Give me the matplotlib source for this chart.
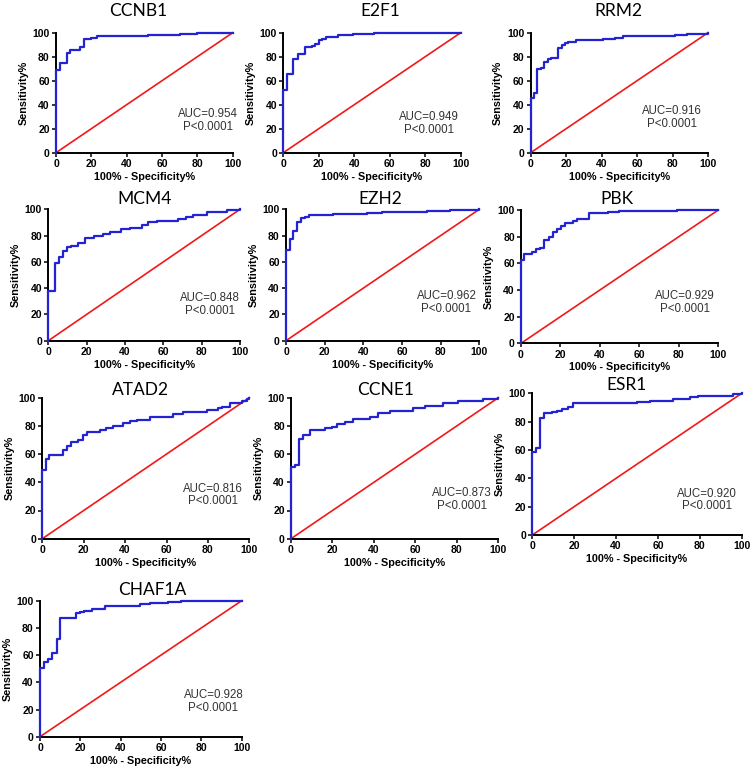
import matplotlib
matplotlib.use("Agg")
import matplotlib.pyplot as plt
from matplotlib.font_manager import FontProperties

# ROC step vertices (100% - specificity, sensitivity)
genes = ["CCNB1", "E2F1", "RRM2", "MCM4", "EZH2", "PBK", "ATAD2", "CCNE1", "ESR1", "CHAF1A"]

ccnb1_x = [0, 0, 2, 6, 8, 13.6, 16, 20, 23, 36, 52, 70, 80, 100]
ccnb1_y = [0, 69, 75, 83, 86, 88, 95, 96, 97, 97.5, 98, 99, 99.5, 100]

e2f1_x = [0, 0, 2.3, 5.6, 8.5, 12, 16, 18, 20, 22, 24, 31, 39.5, 51, 100]
e2f1_y = [0, 52, 65.5, 78, 82, 88, 89, 91, 94, 95, 96.7, 98, 98.7, 99.5, 100]

rrm2_x = [0, 0, 2, 3.8, 6, 7.7, 9.6, 11.5, 15.6, 17.5, 19.4, 21, 25.6, 41, 47.6, 52, 81.4, 88, 100]
rrm2_y = [0, 46, 50, 69.4, 71, 76, 78, 79, 87.5, 90, 91.7, 92.5, 94, 95, 96, 97, 98, 99, 100]

mcm4_x = [0, 0, 3.5, 3.6, 5.7, 7.8, 9.6, 11.7, 15.6, 19, 24, 28.7, 32, 38, 42.6, 48.7, 52, 56.5,
          67.8, 72, 75.6, 82.6, 93, 100]
mcm4_y = [0, 38, 40, 59, 63.5, 68, 71, 72.3, 74, 78, 79.7, 81, 83, 84.8, 86, 88, 90, 91,
          92.6, 94.4, 96, 98.2, 99.5, 100]

ezh2_x = [0, 0, 2, 3.8, 5.5, 7.8, 9.8, 12, 24.5, 41.7, 49.5, 72.8, 84.8, 100]
ezh2_y = [0, 69, 77.4, 83.5, 90, 93, 94, 95.4, 96.7, 97.5, 98, 98.7, 99.5, 100]

pbk_x = [0, 0, 1.7, 5.7, 7.6, 9.6, 11.8, 14.2, 16.4, 18, 20.3, 22.3, 26.2, 28.2, 34.5, 44, 49.7, 79, 100]
pbk_y = [0, 62.5, 67, 68.75, 70.5, 71.75, 77.5, 80, 83.75, 85.75, 88.25, 90, 92, 93.5, 97.5, 98.25, 99.25,
         100, 100]

atad2_x = [0, 0, 1.6, 3.4, 9.8, 11.8, 13.7, 17.4, 19.5, 21.7, 27.9, 31, 34.3, 39, 42.3, 45.6, 52,
           63, 68, 79.4, 85, 86.6, 90.6, 96.3, 98.7, 100]
atad2_y = [0, 49, 56.5, 59.3, 62.9, 66, 68.8, 70, 73.5, 75.9, 77, 78.3, 80, 81.8, 83.2, 84.2, 86,
           88.2, 89.8, 91.3, 92.9, 93.6, 96, 97.9, 99, 100]

ccne1_x = [0, 0, 1.9, 4, 6, 9.2, 16.4, 19.6, 22, 26, 30, 38, 42, 47.7, 59, 64.6, 73.5, 80.7, 92.8, 100]
ccne1_y = [0, 50.6, 52.2, 70.4, 73.5, 77, 78.3, 79.4, 81, 82.5, 84.6, 86.5, 88.9, 90.5, 92.4, 94, 96,
           97.6, 99, 100]

esr1_x = [0, 0, 1.6, 3.7, 5.6, 9.2, 12, 14, 17.2, 19.3, 49.8, 56, 67.4, 75.3, 79.3, 96, 100]
esr1_y = [0, 58.8, 61.2, 82.4, 85.9, 86.6, 87.5, 88.7, 90.6, 92.9, 93.6, 94.6, 95.8, 97.2, 98.4, 99.3, 100]

chaf1a_x = [0, 0, 2, 4.1, 5.8, 8.3, 9.9, 18, 19.8, 21.8, 25.6, 32.2, 49.6, 54.5, 63.6, 70, 100]
chaf1a_y = [0, 50.2, 55, 57, 61.3, 71.6, 87, 90.7, 91.4, 92.4, 94, 96, 97.5, 98, 99, 100, 100]

auc = ["0.954", "0.949", "0.916", "0.848", "0.962", "0.929", "0.816", "0.873", "0.920", "0.928"]
p_text = "P<0.0001"

curves_x = [ccnb1_x, e2f1_x, rrm2_x, mcm4_x, ezh2_x, pbk_x, atad2_x, ccne1_x, esr1_x, chaf1a_x]
curves_y = [ccnb1_y, e2f1_y, rrm2_y, mcm4_y, ezh2_y, pbk_y, atad2_y, ccne1_y, esr1_y, chaf1a_y]

# layout (pixels in the 753x773 image): x0, x100, y_top, y_bottom
W, H = 753, 773
boxes = [
    (56, 232.7, 32.7, 152.7), (283.3, 460.7, 32.7, 152.7), (530.7, 708, 32.7, 152.7),
    (48.3, 240, 209.3, 340.7), (286, 479.3, 209.3, 340.7), (521, 718.3, 210, 343.3),
    (42.3, 249.3, 397.7, 538.7), (291, 498.3, 397.7, 538.7), (532.3, 741.7, 393.3, 535),
    (40, 241.7, 600.7, 736.7),
]
title_x = [0.464, 0.545, 0.492, 0.504, 0.486, 0.485, 0.472, 0.458, 0.451, 0.555]
title_pad_px = [17, 17, 17, 5, 5, 6, 3, 3, -1, 6]
auc_pos = [(86, 27), (82, 24), (79.5, 29.5), (84.3, 27.5), (83, 29), (83, 30.5),
           (82.6, 31), (82.3, 28), (83.3, 24.7), (86, 25.7)]

BLUE = "#2323d2"
RED = "#f01818"
bold = dict(family="Liberation Sans", weight="bold")

fig = plt.figure(figsize=(W / 100, H / 100), dpi=100)

for i, gene in enumerate(genes):
    x0, x1, yt, yb = boxes[i]
    ax = fig.add_axes([x0 / W, 1 - yb / H, (x1 - x0) / W, (yb - yt) / H])
    ax.plot([0, 100], [0, 100], color=RED, lw=1.2, clip_on=False, zorder=2)
    ax.step(curves_x[i], curves_y[i], where="post", color=BLUE, lw=1.6,
            clip_on=False, zorder=3)
    ax.set_xlim(0, 100)
    ax.set_ylim(0, 100)
    ax.set_xticks(range(0, 101, 20))
    ax.set_yticks(range(0, 101, 20))
    for s in ["top", "right"]:
        ax.spines[s].set_visible(False)
    for s in ["left", "bottom"]:
        ax.spines[s].set_linewidth(1.4)
    ax.tick_params(direction="out", length=3, width=1.1, pad=1.5)
    for lab in ax.get_xticklabels() + ax.get_yticklabels():
        lab.set_fontproperties(FontProperties(size=7.5, **bold))
    ax.set_xlabel("100% - Specificity%", fontsize=7.8, labelpad=2, **bold)
    ax.set_ylabel("Sensitivity%", fontsize=7.8, labelpad=3, **bold)
    ax.set_title(gene, fontsize=12.5, family="Lato", x=title_x[i],
                 pad=title_pad_px[i] * 0.72)
    ax.text(auc_pos[i][0], auc_pos[i][1], f"AUC={auc[i]}\n{p_text}",
            ha="center", va="center", fontsize=8.3, color="#333333",
            family="Liberation Sans", linespacing=1.1)

fig.savefig("out.png", dpi=100)
